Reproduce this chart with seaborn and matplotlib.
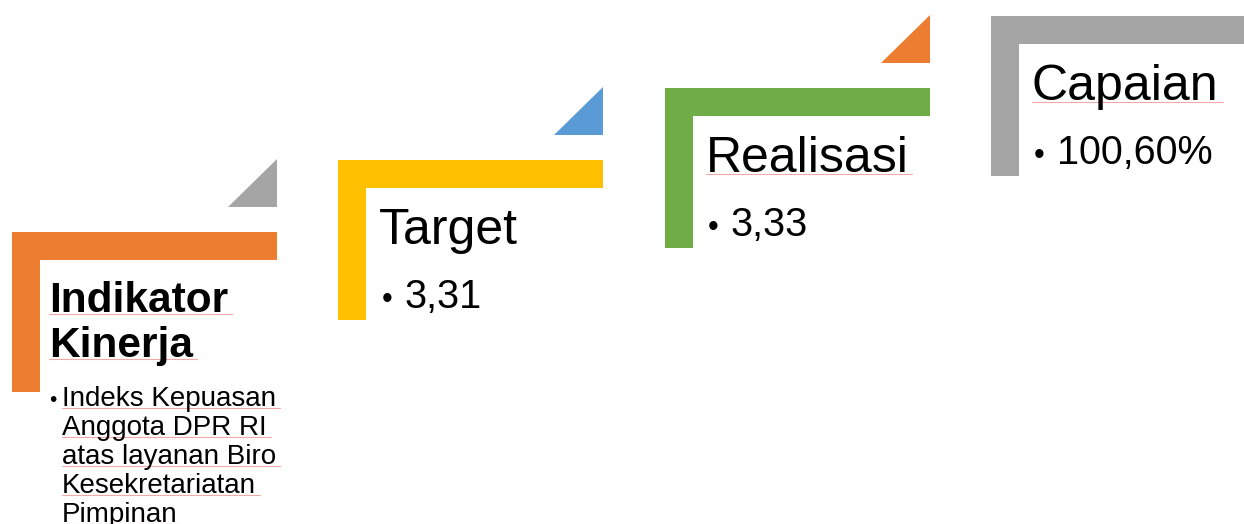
import matplotlib
matplotlib.use("Agg")
import matplotlib.pyplot as plt
import matplotlib.patches as mpatches
import seaborn as sns

# diagram content
steps = ["Indikator Kinerja", "Target", "Realisasi", "Capaian"]
values = ["", "3,31", "3,33", "100,60%"]
desc_lines = ["Indeks Kepuasan", "Anggota DPR RI", "atas layanan Biro",
              "Kesekretariatan", "Pimpinan"]
bar_colors = ["#ED7D31", "#FFC000", "#70AD47", "#A5A5A5"]
tri_colors = ["#A5A5A5", "#5B9BD5", "#ED7D31", "#FFC000"]
underlined = [True, False, True, True]

sns.set_theme(style="white")
plt.rcParams["font.family"] = ["Liberation Sans", "DejaVu Sans"]

fig = plt.figure(figsize=(12.44, 5.24), dpi=100)
ax = fig.add_axes([0, 0, 1, 1])
ax.set_xlim(0, 1244)
ax.set_ylim(524, 0)
ax.axis("off")

x_start, y_start = 12, 232
dx, dy = 326.3, -72
w, t, h = 265, 28, 160

marks = []
for i, name in enumerate(steps):
    x0 = x_start + i * dx
    top = y_start + i * dy
    c = bar_colors[i]
    ax.add_patch(mpatches.Rectangle((x0, top), w, t, color=c, lw=0))
    ax.add_patch(mpatches.Rectangle((x0, top), t, h, color=c, lw=0))
    ax.add_patch(mpatches.Polygon([(x0 + w - 49, top - 25), (x0 + w, top - 25),
                                   (x0 + w, top - 73)], color=tri_colors[i], lw=0))
    if i == 0:
        t1 = ax.text(x0 + 37, top + 80, "Indikator", fontsize=30.5, fontweight="bold",
                     va="baseline", ha="left", color="black")
        t2 = ax.text(x0 + 37, top + 125, "Kinerja", fontsize=30.5, fontweight="bold",
                     va="baseline", ha="left", color="black")
        marks += [t1, t2]
        for k, line in enumerate(desc_lines):
            if k == 0:
                ax.text(x0 + 37, top + 174, "•", fontsize=15, va="baseline", color="black")
            tt = ax.text(x0 + 50, top + 174 + 29 * k, line, fontsize=20,
                         va="baseline", ha="left", color="black")
            marks.append(tt)
    else:
        tt = ax.text(x0 + 41, top + 84, name, fontsize=36, va="baseline",
                     ha="left", color="black")
        if underlined[i]:
            marks.append(tt)
        ax.text(x0 + 43, top + 148, "•", fontsize=22, va="baseline", color="black")
        ax.text(x0 + 66, top + 148, values[i], fontsize=28.5, va="baseline",
                ha="left", color="black")

# spell-check style underlines
fig.canvas.draw()
r = fig.canvas.get_renderer()
inv = ax.transData.inverted()
for tt in marks:
    bb = tt.get_window_extent(r)
    (xa, _), (xb, _) = inv.transform([(bb.x0, bb.y0), (bb.x1, bb.y0)])
    yb = tt.get_position()[1] + 2
    ax.plot([xa, xb + 4], [yb, yb], color="#F4A7A7", lw=0.8)

fig.savefig("out.png", dpi=100)
